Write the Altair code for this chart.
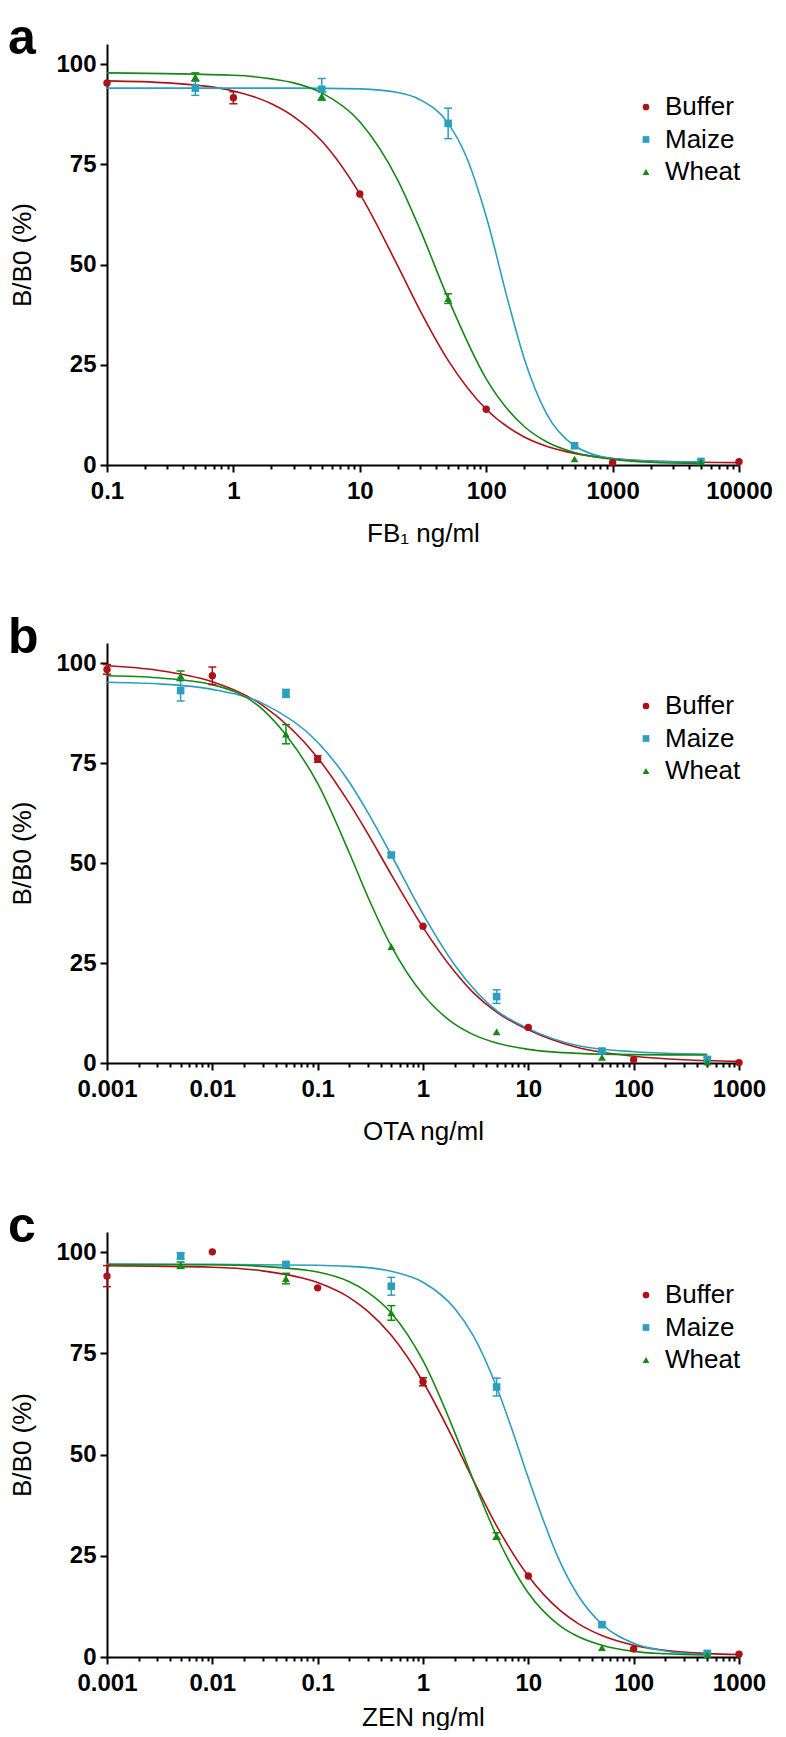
import altair as alt
import pandas as pd

SERIES = ["Buffer", "Maize", "Wheat"]
COLORS = ["#aa1419", "#2a9fbe", "#168816"]
SHAPES = ["circle", "square", "triangle-up"]
SIZES = [55, 60, 70]

# ---------------- panel a (FB1) ----------------
A_X_BUFFER = [0.1, 1, 10, 100, 1000, 10000]
A_Y_BUFFER = [95.3, 91.6, 67.6, 13.9, 0.6, 0.8]
A_E_BUFFER = [0, 1.5, 0, 0, 0, 0]
A_X_MAIZE = [0.5, 5, 50, 500, 5000]
A_Y_MAIZE = [94.0, 93.7, 85.2, 4.8, 0.9]
A_E_MAIZE = [1.8, 2.7, 3.8, 0, 0]
A_X_WHEAT = [0.5, 5, 50, 500, 5000]
A_Y_WHEAT = [96.8, 92.0, 41.5, 1.5, 0.8]
A_E_WHEAT = [1.0, 1.0, 1.2, 0, 0]

A_CX_BUFFER = [0.1, 0.3, 1, 2, 3, 5, 10, 20, 30, 50, 100, 200, 300, 500, 1000, 3000, 10000]
A_CY_BUFFER = [95.8, 95.3, 93.3, 90.1, 86.9, 80.8, 67.6, 49.6, 38.5, 26.1, 13.9, 7.0, 4.7, 2.9, 1.6, 0.8, 0.6]
A_CX_MAIZE = [0.1, 1, 3, 10, 20, 30, 50, 70, 100, 150, 200, 300, 500, 1000, 2000, 5000]
A_CY_MAIZE = [94.0, 94.0, 94.0, 93.8, 92.9, 91.1, 85.2, 76.7, 62.0, 40.5, 26.5, 12.8, 4.8, 1.6, 1.0, 0.8]
A_CX_WHEAT = [0.1, 1, 2, 3, 5, 10, 20, 30, 50, 100, 200, 300, 500, 1000, 2000, 5000]
A_CY_WHEAT = [97.8, 97.2, 96.3, 95.3, 92.8, 85.6, 71.0, 58.7, 41.5, 21.5, 9.6, 5.8, 3.1, 1.4, 0.7, 0.4]

# ---------------- panel b (OTA) ----------------
B_X_BUFFER = [0.001, 0.01, 0.1, 1, 10, 100, 1000]
B_Y_BUFFER = [98.4, 96.8, 76.0, 34.2, 8.9, 0.8, 0.1]
B_E_BUFFER = [1.2, 2.2, 0.8, 0, 0, 0, 0]
B_X_MAIZE = [0.005, 0.05, 0.5, 5, 50, 500]
B_Y_MAIZE = [93.1, 92.4, 52.0, 16.6, 3.0, 0.9]
B_E_MAIZE = [2.6, 1.0, 0.5, 1.7, 0.5, 0.5]
B_X_WHEAT = [0.005, 0.05, 0.5, 5, 50, 500]
B_Y_WHEAT = [96.8, 82.2, 29.1, 7.8, 1.4, 0.2]
B_E_WHEAT = [1.2, 2.4, 0, 0, 0, 0]

B_CX_BUFFER = [0.001, 0.003, 0.01, 0.03, 0.1, 0.2, 0.3, 0.5, 1, 2, 3, 5, 10, 30, 100, 300, 1000]
B_CY_BUFFER = [99.3, 98.2, 95.3, 89.4, 76.3, 64.9, 57.3, 47.1, 33.9, 22.8, 17.6, 12.7, 8.3, 3.8, 1.7, 0.8, 0.4]
B_CX_MAIZE = [0.001, 0.003, 0.01, 0.03, 0.1, 0.2, 0.3, 0.5, 1, 2, 3, 5, 10, 30, 100, 300, 500]
B_CY_MAIZE = [95.2, 94.8, 93.4, 89.9, 80.2, 70.2, 62.6, 52.0, 37.2, 24.5, 18.7, 13.1, 8.6, 4.3, 2.8, 2.3, 2.2]
B_CX_WHEAT = [0.001, 0.003, 0.01, 0.03, 0.05, 0.1, 0.2, 0.3, 0.5, 1, 2, 3, 5, 10, 30, 100, 500]
B_CY_WHEAT = [96.8, 96.3, 94.6, 88.4, 82.0, 69.9, 52.5, 41.5, 29.2, 17.1, 9.7, 7.1, 5.0, 3.4, 2.4, 2.1, 2.0]

# ---------------- panel c (ZEN) ----------------
C_X_BUFFER = [0.001, 0.01, 0.1, 1, 10, 100, 1000]
C_Y_BUFFER = [94.1, 100.1, 91.2, 68.0, 20.0, 2.0, 0.7]
C_E_BUFFER = [2.6, 0, 0, 1.0, 0, 0, 0]
C_X_MAIZE = [0.005, 0.05, 0.5, 5, 50, 500]
C_Y_MAIZE = [99.1, 97.0, 91.6, 66.7, 8.0, 0.9]
C_E_MAIZE = [0.8, 0.5, 2.2, 2.2, 0.5, 0.3]
C_X_WHEAT = [0.005, 0.05, 0.5, 5, 50, 500]
C_Y_WHEAT = [96.8, 93.5, 85.0, 29.9, 2.3, 0.5]
C_E_WHEAT = [0.8, 1.3, 1.8, 0.8, 0, 0]

C_CX_BUFFER = [0.001, 0.01, 0.03, 0.1, 0.2, 0.3, 0.5, 1, 2, 3, 5, 10, 20, 30, 50, 100, 300, 1000]
C_CY_BUFFER = [96.7, 96.3, 95.4, 92.5, 88.8, 85.4, 79.5, 68.0, 53.1, 43.7, 32.4, 20.0, 11.5, 8.2, 5.3, 2.9, 1.2, 0.6]
C_CX_MAIZE = [0.001, 0.01, 0.1, 0.2, 0.3, 0.5, 1, 2, 3, 5, 7, 10, 20, 30, 50, 100, 200, 500]
C_CY_MAIZE = [97.0, 97.0, 96.8, 96.5, 96.2, 95.3, 92.6, 86.1, 79.4, 66.7, 56.2, 44.2, 23.5, 15.0, 8.1, 3.4, 1.5, 0.6]
C_CX_WHEAT = [0.001, 0.01, 0.03, 0.1, 0.2, 0.3, 0.5, 1, 2, 3, 5, 10, 20, 30, 50, 100, 200, 500]
C_CY_WHEAT = [97.0, 96.9, 96.5, 95.1, 92.7, 90.1, 85.0, 73.2, 55.5, 43.7, 29.9, 15.8, 7.7, 5.0, 2.9, 1.4, 0.8, 0.5]

Y_TICKS = [0, 25, 50, 75, 100]
A_DECADES = [0.1, 1, 10, 100, 1000, 10000]
BC_DECADES = [0.001, 0.01, 0.1, 1, 10, 100, 1000]
MULTS = [1, 2, 3, 4, 5, 6, 7, 8, 9]

FONT = "Liberation Sans"
DEC_TEST = "abs(log(datum.value)/LN10 - round(log(datum.value)/LN10)) < 0.001"


def tick_values(decades):
    vals = []
    for d in decades[:-1]:
        for m in MULTS:
            vals.append(round(d * m, 6))
    vals.append(decades[-1])
    return vals


def points_df(xs, ys, es):
    rows = []
    for s, x, y, e in zip(SERIES, xs, ys, es):
        for xi, yi, ei in zip(x, y, e):
            rows.append({"series": s, "conc": xi, "val": yi, "err": ei,
                         "lo": yi - ei, "hi": yi + ei})
    return pd.DataFrame(rows)


def curves_df(cxs, cys):
    rows = []
    for s, x, y in zip(SERIES, cxs, cys):
        for xi, yi in zip(x, y):
            rows.append({"series": s, "conc": xi, "val": yi})
    return pd.DataFrame(rows)


def panel(letter, title, decades, pts, crv, height, title_pad):
    xscale = alt.Scale(type="log", domain=[decades[0], decades[-1]], nice=False)
    yscale = alt.Scale(domain=[0, 105], nice=False, zero=False)
    xaxis = alt.Axis(
        title=title, values=tick_values(decades),
        labelExpr=DEC_TEST + " ? format(datum.value, '~g') : ''",
        tickSize={"condition": {"test": DEC_TEST, "value": 7}, "value": 4},
        labelFlush=False, labelOverlap=False, labelPadding=7, titlePadding=title_pad,
        grid=False,
    )
    yaxis = alt.Axis(title="B/B0 (%)", values=Y_TICKS, tickSize=7, labelPadding=4,
                     titlePadding=20, labelFlush=False, grid=False)
    cscale = alt.Scale(domain=SERIES, range=COLORS)
    sscale = alt.Scale(domain=SERIES, range=SHAPES)
    zscale = alt.Scale(domain=SERIES, range=SIZES)
    stroke = alt.Stroke("series:N", scale=cscale, legend=None)

    lines = alt.Chart(crv).mark_line(interpolate="monotone", strokeWidth=1.6).encode(
        x=alt.X("conc:Q", scale=xscale, axis=xaxis),
        y=alt.Y("val:Q", scale=yscale, axis=yaxis),
        stroke=stroke,
        detail="series:N",
    )
    ebar = pts[pts["err"] > 0]
    bars = alt.Chart(ebar).mark_rule(strokeWidth=1.5).encode(
        x="conc:Q", y="lo:Q", y2="hi:Q", stroke=stroke,
    )
    cap_hi = alt.Chart(ebar).mark_rule(strokeWidth=1.5, xOffset=-4, x2Offset=4).encode(
        x="conc:Q", x2="conc:Q", y="hi:Q", stroke=stroke,
    )
    cap_lo = alt.Chart(ebar).mark_rule(strokeWidth=1.5, xOffset=-4, x2Offset=4).encode(
        x="conc:Q", x2="conc:Q", y="lo:Q", stroke=stroke,
    )
    legend = alt.Legend(title=None, orient="none", legendX=526, legendY=50,
                        labelFontSize=26, labelFont=FONT, labelColor="black",
                        symbolSize=45, symbolStrokeWidth=0, labelOffset=6,
                        rowPadding=6.5, padding=0)
    dots = alt.Chart(pts).mark_point(filled=True, opacity=1).encode(
        x="conc:Q", y="val:Q",
        color=alt.Color("series:N", scale=cscale, legend=legend),
        shape=alt.Shape("series:N", scale=sscale, legend=legend),
        size=alt.Size("series:N", scale=zscale, legend=None),
    )
    lab = alt.Chart(pd.DataFrame({"t": [letter]})).mark_text(
        align="left", baseline="alphabetic", fontSize=50, fontWeight="bold",
        font=FONT, color="black",
    ).encode(text="t:N", x=alt.value(-99), y=alt.value(10))
    return alt.layer(lines, bars, cap_hi, cap_lo, dots, lab).properties(width=632, height=height)


pa = panel("a", "FB₁ ng/ml", A_DECADES,
           points_df([A_X_BUFFER, A_X_MAIZE, A_X_WHEAT], [A_Y_BUFFER, A_Y_MAIZE, A_Y_WHEAT],
                     [A_E_BUFFER, A_E_MAIZE, A_E_WHEAT]),
           curves_df([A_CX_BUFFER, A_CX_MAIZE, A_CX_WHEAT], [A_CY_BUFFER, A_CY_MAIZE, A_CY_WHEAT]),
           421, 17)
pb = panel("b", "OTA ng/ml", BC_DECADES,
           points_df([B_X_BUFFER, B_X_MAIZE, B_X_WHEAT], [B_Y_BUFFER, B_Y_MAIZE, B_Y_WHEAT],
                     [B_E_BUFFER, B_E_MAIZE, B_E_WHEAT]),
           curves_df([B_CX_BUFFER, B_CX_MAIZE, B_CX_WHEAT], [B_CY_BUFFER, B_CY_MAIZE, B_CY_WHEAT]),
           420, 17)
pc = panel("c", "ZEN ng/ml", BC_DECADES,
           points_df([C_X_BUFFER, C_X_MAIZE, C_X_WHEAT], [C_Y_BUFFER, C_Y_MAIZE, C_Y_WHEAT],
                     [C_E_BUFFER, C_E_MAIZE, C_E_WHEAT]),
           curves_df([C_CX_BUFFER, C_CX_MAIZE, C_CX_WHEAT], [C_CY_BUFFER, C_CY_MAIZE, C_CY_WHEAT]),
           425, 9)

top = alt.vconcat(pa, pb, spacing=67).resolve_legend(color="independent", shape="independent")
chart = alt.vconcat(top, pc, spacing=58).resolve_legend(
    color="independent", shape="independent"
).properties(
    background="white", padding={"top": 6, "left": 0, "right": 0, "bottom": 0}
).configure_axis(
    domainColor="black", domainWidth=2, tickColor="black", tickWidth=2,
    labelFont=FONT, labelFontSize=24, labelFontWeight="bold", labelColor="black",
    titleFont=FONT, titleFontSize=26, titleFontWeight="normal", titleColor="black",
).configure_view(strokeWidth=0)

chart.save("out.html", embed_options={"renderer": "svg", "actions": False})
